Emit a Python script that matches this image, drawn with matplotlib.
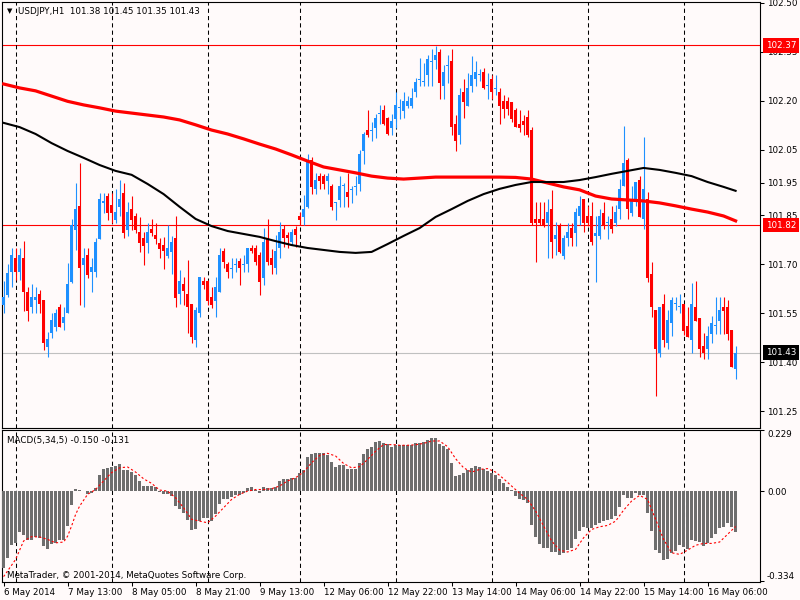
import matplotlib.pyplot as plt
import numpy as np

# USDJPY H1 candles, bar 0 = 6 May 21:00 ... bar 183 = 16 May 13:00
opens = [
    101.575, 101.605, 101.678, 101.718, 101.678, 101.720, 101.616, 101.568, 101.590, 101.610,
    101.590, 101.448, 101.489, 101.509, 101.568, 101.519, 101.550, 101.647, 101.805, 101.879,
    101.698, 101.729, 101.678, 101.678, 101.778, 101.888, 101.910, 101.882, 101.836, 101.877,
    101.919, 101.805, 101.868, 101.848, 101.800, 101.782, 101.766, 101.808, 101.790, 101.766,
    101.759, 101.727, 101.739, 101.780, 101.608, 101.640, 101.609, 101.578, 101.468, 101.550,
    101.649, 101.649, 101.601, 101.589, 101.616, 101.741, 101.700, 101.686, 101.698, 101.710,
    101.698, 101.700, 101.751, 101.751, 101.729, 101.659, 101.780, 101.718, 101.688, 101.749,
    101.807, 101.790, 101.769, 101.807, 101.848, 101.846, 101.877, 102.018, 101.930, 101.971,
    101.971, 101.956, 101.940, 101.887, 101.897, 101.940, 101.920, 101.928, 101.938, 101.946,
    102.048, 102.110, 102.108, 102.117, 102.160, 102.171, 102.147, 102.117, 102.145, 102.180,
    102.168, 102.185, 102.185, 102.226, 102.265, 102.257, 102.280, 102.318, 102.326, 102.351,
    102.246, 102.306, 102.321, 102.130, 102.096, 102.229, 102.185, 102.246, 102.267, 102.279,
    102.290, 102.246, 102.267, 102.237, 102.229, 102.201, 102.201, 102.198, 102.171, 102.130,
    102.140, 102.150, 102.110, 101.839, 101.839, 101.839, 101.828, 101.870, 101.778, 101.821,
    101.726, 101.780, 101.810, 101.797, 101.848, 101.899, 101.848, 101.848, 101.787, 101.787,
    101.858, 101.828, 101.838, 101.828, 101.869, 101.940, 102.020, 101.858, 101.899, 101.958,
    101.838, 101.899, 101.670, 101.560, 101.429, 101.578, 101.458, 101.519, 101.578, 101.568,
    101.578, 101.511, 101.468, 101.568, 101.537, 101.450, 101.440, 101.488, 101.510, 101.527,
    101.568, 101.568, 101.499, 101.380,
]
highs = [
    101.650, 101.700, 101.750, 101.750, 101.750, 101.770, 101.632, 101.640, 101.632, 101.621,
    101.591, 101.494, 101.552, 101.562, 101.579, 101.570, 101.703, 101.838, 101.948, 102.009,
    101.749, 101.749, 101.718, 101.780, 101.919, 101.917, 101.917, 101.919, 101.930, 101.958,
    101.948, 101.892, 101.909, 101.856, 101.846, 101.800, 101.828, 101.838, 101.828, 101.780,
    101.783, 101.820, 101.787, 101.848, 101.683, 101.662, 101.713, 101.580, 101.570, 101.662,
    101.662, 101.652, 101.632, 101.662, 101.749, 101.751, 101.708, 101.718, 101.718, 101.718,
    101.729, 101.751, 101.759, 101.759, 101.739, 101.810, 101.838, 101.747, 101.790, 101.831,
    101.820, 101.800, 101.807, 101.817, 101.860, 101.912, 102.038, 102.030, 101.979, 101.981,
    101.975, 101.979, 101.945, 101.892, 101.971, 101.950, 101.981, 101.940, 101.971, 102.050,
    102.105, 102.171, 102.137, 102.160, 102.188, 102.188, 102.150, 102.160, 102.229, 102.205,
    102.229, 102.216, 102.239, 102.270, 102.331, 102.316, 102.341, 102.358, 102.369, 102.358,
    102.311, 102.341, 102.358, 102.157, 102.239, 102.267, 102.287, 102.338, 102.321, 102.297,
    102.300, 102.287, 102.280, 102.280, 102.239, 102.219, 102.211, 102.198, 102.178, 102.171,
    102.157, 102.171, 102.120, 101.890, 101.890, 101.890, 101.900, 101.928, 101.830, 101.825,
    101.790, 101.828, 101.828, 101.872, 101.909, 101.899, 101.879, 101.892, 101.848, 101.869,
    101.892, 101.848, 101.879, 101.882, 101.960, 102.122, 102.025, 101.940, 101.953, 101.971,
    102.091, 101.920, 101.708, 101.560, 101.570, 101.609, 101.560, 101.599, 101.599, 101.609,
    101.580, 101.568, 101.642, 101.650, 101.537, 101.491, 101.511, 101.542, 101.599, 101.599,
    101.599, 101.591, 101.499, 101.450,
]
lows = [
    101.550, 101.600, 101.630, 101.652, 101.652, 101.558, 101.528, 101.550, 101.550, 101.550,
    101.438, 101.417, 101.473, 101.497, 101.509, 101.499, 101.550, 101.642, 101.744, 101.575,
    101.570, 101.657, 101.616, 101.660, 101.778, 101.856, 101.836, 101.826, 101.828, 101.848,
    101.780, 101.787, 101.805, 101.795, 101.739, 101.698, 101.734, 101.787, 101.762, 101.720,
    101.687, 101.718, 101.670, 101.568, 101.579, 101.576, 101.489, 101.458, 101.448, 101.538,
    101.626, 101.576, 101.565, 101.538, 101.616, 101.688, 101.659, 101.657, 101.678, 101.637,
    101.678, 101.678, 101.735, 101.698, 101.606, 101.637, 101.698, 101.669, 101.669, 101.718,
    101.754, 101.749, 101.759, 101.754, 101.820, 101.820, 101.872, 101.916, 101.916, 101.930,
    101.930, 101.916, 101.866, 101.836, 101.877, 101.877, 101.877, 101.889, 101.912, 101.923,
    102.007, 102.090, 102.079, 102.086, 102.130, 102.125, 102.096, 102.096, 102.117, 102.145,
    102.147, 102.178, 102.178, 102.212, 102.246, 102.246, 102.246, 102.246, 102.297, 102.205,
    102.205, 102.256, 102.096, 102.048, 102.069, 102.147, 102.185, 102.226, 102.246, 102.260,
    102.236, 102.205, 102.205, 102.219, 102.130, 102.147, 102.157, 102.137, 102.120, 102.106,
    102.096, 102.090, 101.820, 101.708, 101.820, 101.815, 101.719, 101.719, 101.730, 101.734,
    101.716, 101.756, 101.756, 101.756, 101.821, 101.800, 101.818, 101.760, 101.647, 101.777,
    101.807, 101.777, 101.797, 101.818, 101.838, 101.940, 101.838, 101.848, 101.879, 101.846,
    101.807, 101.647, 101.538, 101.297, 101.417, 101.446, 101.440, 101.480, 101.560, 101.550,
    101.483, 101.478, 101.429, 101.527, 101.417, 101.409, 101.409, 101.458, 101.488, 101.486,
    101.486, 101.468, 101.386, 101.350,
]
closes = [
    101.600, 101.672, 101.730, 101.678, 101.730, 101.616, 101.558, 101.601, 101.601, 101.578,
    101.458, 101.471, 101.530, 101.552, 101.509, 101.540, 101.640, 101.820, 101.868, 101.688,
    101.718, 101.667, 101.691, 101.767, 101.899, 101.893, 101.858, 101.856, 101.860, 101.899,
    101.797, 101.861, 101.836, 101.805, 101.766, 101.756, 101.800, 101.797, 101.777, 101.747,
    101.742, 101.751, 101.768, 101.598, 101.649, 101.618, 101.568, 101.477, 101.560, 101.662,
    101.637, 101.589, 101.576, 101.632, 101.729, 101.708, 101.678, 101.688, 101.700, 101.688,
    101.700, 101.751, 101.741, 101.708, 101.647, 101.769, 101.708, 101.698, 101.741, 101.800,
    101.780, 101.780, 101.800, 101.790, 101.836, 101.869, 102.018, 101.938, 101.958, 101.956,
    101.946, 101.971, 101.877, 101.890, 101.940, 101.944, 101.907, 101.930, 101.940, 102.038,
    102.099, 102.096, 102.110, 102.147, 102.162, 102.130, 102.099, 102.140, 102.188, 102.183,
    102.201, 102.201, 102.209, 102.259, 102.267, 102.260, 102.329, 102.321, 102.341, 102.256,
    102.290, 102.311, 102.120, 102.079, 102.219, 102.198, 102.239, 102.280, 102.290, 102.280,
    102.239, 102.249, 102.226, 102.239, 102.185, 102.175, 102.175, 102.144, 102.120, 102.117,
    102.127, 102.096, 101.826, 101.826, 101.826, 101.821, 101.859, 101.768, 101.790, 101.739,
    101.780, 101.800, 101.780, 101.861, 101.879, 101.826, 101.828, 101.767, 101.797, 101.848,
    101.818, 101.830, 101.807, 101.861, 101.930, 102.011, 101.869, 101.899, 101.953, 101.846,
    101.930, 101.657, 101.569, 101.440, 101.570, 101.468, 101.529, 101.590, 101.580, 101.570,
    101.497, 101.478, 101.578, 101.527, 101.440, 101.429, 101.480, 101.521, 101.511, 101.560,
    101.558, 101.488, 101.386, 101.430,
]

# moving averages, read every 4 bars
ma_bars = list(range(0, 181, 4)) + [183]
ma_red = [
    102.252, 102.240, 102.231, 102.215, 102.199, 102.188, 102.179, 102.169, 102.163, 102.157,
    102.151, 102.142, 102.127, 102.111, 102.099, 102.084, 102.068, 102.053, 102.035, 102.016,
    101.998, 101.989, 101.980, 101.970, 101.964, 101.961, 101.964, 101.967, 101.967, 101.967,
    101.967, 101.967, 101.966, 101.961, 101.949, 101.937, 101.928, 101.909, 101.900, 101.897,
    101.894, 101.888, 101.879, 101.869, 101.860, 101.848, 101.833,
]
ma_black = [
    102.133, 102.120, 102.099, 102.071, 102.047, 102.026, 102.004, 101.986, 101.974, 101.946,
    101.915, 101.876, 101.839, 101.817, 101.802, 101.793, 101.784, 101.771, 101.759, 101.750,
    101.744, 101.738, 101.735, 101.738, 101.762, 101.787, 101.811, 101.845, 101.869, 101.894,
    101.915, 101.931, 101.943, 101.952, 101.952, 101.952, 101.958, 101.967, 101.977, 101.986,
    101.995, 101.989, 101.980, 101.970, 101.952, 101.937, 101.925,
]

# MACD(5,34,5)
macd_hist = [
    -0.285, -0.247, -0.201, -0.194, -0.151, -0.164, -0.182, -0.182, -0.169, -0.173,
    -0.204, -0.214, -0.198, -0.192, -0.182, -0.182, -0.129, -0.052, 0.010, 0.005,
    0.001, -0.011, -0.007, 0.012, 0.060, 0.084, 0.089, 0.092, 0.095, 0.101,
    0.080, 0.080, 0.073, 0.060, 0.039, 0.020, 0.020, 0.020, 0.017, -0.004,
    -0.011, -0.009, -0.017, -0.055, -0.067, -0.082, -0.105, -0.144, -0.140, -0.111,
    -0.099, -0.099, -0.111, -0.086, -0.048, -0.030, -0.028, -0.020, -0.012, -0.012,
    -0.005, 0.013, 0.017, 0.007, -0.005, 0.017, 0.013, 0.013, 0.017, 0.039,
    0.045, 0.048, 0.051, 0.051, 0.067, 0.080, 0.129, 0.138, 0.144, 0.144,
    0.144, 0.134, 0.109, 0.092, 0.097, 0.097, 0.084, 0.084, 0.084, 0.107,
    0.141, 0.157, 0.167, 0.184, 0.188, 0.182, 0.176, 0.167, 0.172, 0.174,
    0.172, 0.172, 0.172, 0.179, 0.182, 0.184, 0.192, 0.198, 0.201, 0.176,
    0.169, 0.159, 0.107, 0.057, 0.060, 0.067, 0.080, 0.089, 0.095, 0.092,
    0.082, 0.076, 0.070, 0.060, 0.045, 0.030, 0.017, 0.007, -0.017, -0.030,
    -0.032, -0.042, -0.124, -0.170, -0.198, -0.210, -0.210, -0.227, -0.227, -0.236,
    -0.229, -0.217, -0.210, -0.176, -0.148, -0.132, -0.135, -0.135, -0.124, -0.117,
    -0.111, -0.105, -0.102, -0.092, -0.057, -0.012, -0.023, -0.023, -0.007, -0.015,
    -0.015, -0.082, -0.148, -0.219, -0.229, -0.256, -0.252, -0.229, -0.223, -0.201,
    -0.207, -0.214, -0.182, -0.185, -0.189, -0.204, -0.192, -0.173, -0.160, -0.135,
    -0.132, -0.117, -0.132, -0.150,
]
sig_bars = [0, 3, 5, 7, 9, 11, 13, 15, 16, 17, 18, 19] + list(range(21, 96, 2)) + [98] + list(range(99, 184, 2))
sig_vals = [
    -0.318, -0.254, -0.185, -0.169, -0.170, -0.179, -0.192, -0.189, -0.167, -0.129, -0.086, -0.055,
    -0.011, 0.007, 0.039, 0.070, 0.088, 0.091, 0.072, 0.047, 0.030, 0.005,
    0.001, -0.024, -0.061, -0.104, -0.111, -0.117, -0.092, -0.061, -0.030, -0.011,
    0.001, 0.007, 0.007, 0.010, 0.020, 0.039, 0.051, 0.072, 0.107, 0.134,
    0.142, 0.132, 0.104, 0.088, 0.092, 0.119, 0.150, 0.175,
    0.174,
    0.172, 0.172, 0.174, 0.179, 0.188, 0.188, 0.167, 0.122, 0.088, 0.072,
    0.082, 0.085, 0.072, 0.047, 0.020, -0.007, -0.030, -0.073, -0.129, -0.185,
    -0.219, -0.226, -0.216, -0.173, -0.142, -0.132, -0.127, -0.111, -0.070, -0.036,
    -0.015, -0.030, -0.104, -0.179, -0.229, -0.235, -0.219, -0.201, -0.194, -0.194,
    -0.189, -0.160, -0.131,
]

price_ticks = [102.50, 102.35, 102.20, 102.05, 101.95, 101.85, 101.70, 101.55, 101.40, 101.25]
sep_bars = [3, 27, 51, 74, 98, 122, 146, 170]
time_bars = [0, 16, 32, 48, 64, 80, 96, 112, 128, 144, 160, 176]
time_labels = ["6 May 2014", "7 May 13:00", "8 May 05:00", "8 May 21:00", "9 May 13:00",
               "12 May 06:00", "12 May 22:00", "13 May 14:00", "14 May 06:00",
               "14 May 22:00", "15 May 14:00", "16 May 06:00"]

BG = '#FFFAFA'
BULL = '#1E90FF'
BEAR = '#FF0000'
FS = 6.3

plt.rcParams['font.family'] = 'DejaVu Sans'
fig = plt.figure(figsize=(8, 6), dpi=100, facecolor=BG)
ax = fig.add_axes([0.0025, 0.28667, 0.9475, 0.71])
axm = fig.add_axes([0.0025, 0.03, 0.9475, 0.25333])

o = np.array(opens)
h = np.array(highs)
l = np.array(lows)
c = np.array(closes)
x = np.arange(len(c))
col = np.where(c >= o, BULL, BEAR)

# price panel
ax.axhline(102.37, color=BEAR, lw=0.8, zorder=1)
ax.axhline(101.82, color=BEAR, lw=0.8, zorder=1)
ax.axhline(101.43, color='#C0C0C0', lw=0.8, zorder=1)
ax.vlines(x, l, h, colors=col, lw=0.8, zorder=3)
ax.bar(x, np.maximum(np.abs(c - o), 0.003), 0.75, bottom=np.minimum(o, c),
       color=col, linewidth=0, zorder=3)
ax.plot(ma_bars, ma_red, color='red', lw=2.3, zorder=4)
ax.plot(ma_bars, ma_black, color='black', lw=1.5, zorder=4)

# MACD panel
axm.bar(x, macd_hist, 0.75, color='#6E6E6E', linewidth=0, zorder=3)
axm.plot(sig_bars, sig_vals, color='red', lw=0.8, ls=(0, (2, 2)), zorder=4)

for a in (ax, axm):
    a.set_facecolor(BG)
    a.set_xlim(-0.4, 189.1)
    for b in sep_bars:
        a.axvline(b, color='black', lw=0.75, ls=(0, (4, 3)), zorder=2)
    for s in a.spines.values():
        s.set_color('black')
        s.set_linewidth(0.8)
    a.yaxis.tick_right()

ax.set_ylim(101.199, 102.503)
ax.set_xticks([])
ax.set_yticks(price_ticks)
ax.set_yticklabels([f'{v:.2f}' for v in price_ticks])
ax.tick_params(axis='y', direction='out', length=3, width=0.75, pad=2, labelsize=FS)

for val, fc in [(102.37, BEAR), (101.82, BEAR), (101.43, 'black')]:
    ax.text(1.008, val, f'{val:.2f}', transform=ax.get_yaxis_transform(), color='white',
            fontsize=FS, va='center', ha='left', clip_on=False, zorder=10,
            bbox=dict(boxstyle='square,pad=0.3', fc=fc, ec='none'))

axm.set_ylim(-0.338, 0.229)
axm.set_yticks([0.229, 0.0, -0.334])
axm.set_yticklabels(['0.229', '0.00', '-0.334'])
axm.tick_params(axis='y', direction='out', length=3, width=0.75, pad=2, labelsize=FS)
ylab = axm.get_yticklabels()
ylab[0].set_va('top')
ylab[2].set_va('bottom')
axm.set_xticks(time_bars)
axm.set_xticklabels(time_labels, ha='left')
axm.tick_params(axis='x', direction='out', length=3, width=0.75, pad=1.5, labelsize=FS)

fig.text(9.5 / 800, 1 - 11 / 600, '\u25bc', fontsize=5, ha='center', va='center')
fig.text(18 / 800, 1 - 11 / 600, 'USDJPY,H1  101.38 101.45 101.35 101.43', fontsize=FS, va='center')
fig.text(7 / 800, 1 - 440 / 600, 'MACD(5,34,5) -0.150 -0.131', fontsize=FS, va='center')
fig.text(7 / 800, 1 - 575 / 600, 'MetaTrader, \u00a9 2001-2014, MetaQuotes Software Corp.',
         fontsize=FS, va='center')

fig.savefig('out.png', dpi=100, facecolor=BG)
